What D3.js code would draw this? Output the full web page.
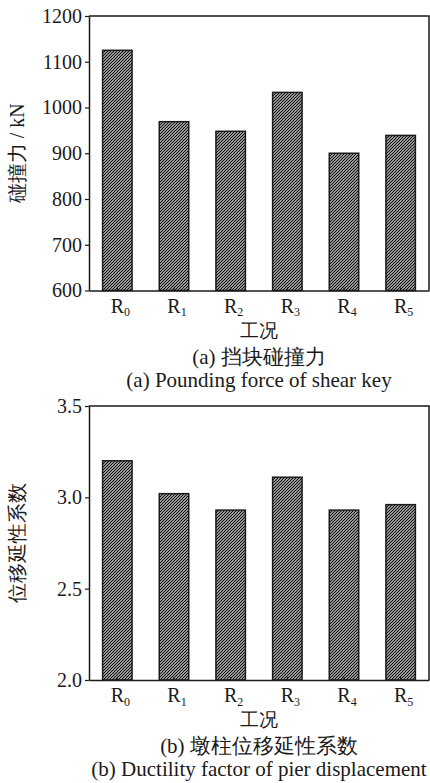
<!DOCTYPE html>
<html>
<head>
<meta charset="utf-8">
<script src="https://cdn.jsdelivr.net/npm/d3@7"></script>
</head>
<body style="margin:0;background:#fff">
<svg id="chart" width="430" height="783"></svg>
<script>
// data
const cases      = ['0','1','2','3','4','5'];           // R subscripts
const forceVals  = [1125, 969, 948, 1033, 900, 939];   // kN
const forceTicks = [600, 700, 800, 900, 1000, 1100, 1200];
const ductVals   = [3.20, 3.02, 2.93, 3.11, 2.93, 2.96];
const ductTicks  = [2.0, 2.5, 3.0, 3.5];

const svg = d3.select('#chart');
const ink = '#1a1a1a';
const serif = '"Liberation Serif"';

// hatch "/" pattern
const pat = svg.append('defs').append('pattern')
  .attr('id','hatch').attr('patternUnits','userSpaceOnUse')
  .attr('width',3).attr('height',3);
pat.append('rect').attr('width',3).attr('height',3).attr('fill','#fff');
pat.append('path')
  .attr('d','M-1,1 L1,-1 M0,3 L3,0 M2,4 L4,2')
  .attr('stroke','#111').attr('stroke-width',1.3);

const L = 89, R = 429;

function txt(sel, size){
  return sel.style('font-family', serif).style('font-size', size+'px').style('fill', ink);
}

function panel(o){
  const x = d3.scaleBand().domain(cases).range([L,R])
    .paddingInner(0.48).paddingOuter(0.24);
  const y = d3.scaleLinear().domain(o.domain).range([o.bottom, o.top]);

  const g = svg.append('g');

  // bars
  g.selectAll('rect.bar').data(o.vals).enter().append('rect')
    .attr('class','bar')
    .attr('x',(d,i)=>x(cases[i]))
    .attr('y',d=>y(d))
    .attr('width',x.bandwidth())
    .attr('height',d=>o.bottom - y(d))
    .attr('fill','url(#hatch)')
    .attr('stroke',ink).attr('stroke-width',1.5);

  // frame top/right
  g.append('path')
    .attr('d',`M${L},${o.top}H${R}V${o.bottom}`)
    .attr('fill','none').attr('stroke',ink).attr('stroke-width',1.5);

  // y axis
  const ya = g.append('g').attr('transform',`translate(${L},0)`)
    .call(d3.axisLeft(y).tickValues(o.ticks).tickFormat(o.fmt)
      .tickSizeInner(4).tickSizeOuter(0).tickPadding(3));
  ya.select('.domain').attr('stroke',ink).attr('stroke-width',1.5);
  ya.selectAll('.tick line').attr('stroke',ink).attr('stroke-width',1.2);
  txt(ya.selectAll('text'), 20);

  // x axis
  const xa = g.append('g').attr('transform',`translate(0,${o.bottom})`)
    .call(d3.axisBottom(x).tickSizeInner(-3).tickSizeOuter(0).tickPadding(8));
  xa.select('.domain').attr('stroke',ink).attr('stroke-width',1.5);
  xa.selectAll('.tick line').attr('stroke',ink).attr('stroke-width',1.2);
  xa.selectAll('.tick text').each(function(d){
    const t = txt(d3.select(this).text(null)
      .attr('text-anchor','start').attr('x',-6.7), 20);
    t.append('tspan').text('R');
    t.append('tspan').style('font-size','12px').attr('dy','0.3em').text(d);
  });

  // y label
  txt(g.append('text'), 20)
    .attr('transform',`translate(24,${(o.top+o.bottom)/2}) rotate(-90)`)
    .attr('text-anchor','middle')
    .text(o.ylabel);

  const cx = (L+R)/2;
  txt(g.append('text'), 19).attr('x',cx).attr('y',o.bottom+46)
    .attr('text-anchor','middle').text('工况');
  txt(g.append('text'), 21).attr('x',cx).attr('y',o.bottom+73)
    .attr('text-anchor','middle').text(o.cap1);
  txt(g.append('text'), 21).attr('x',cx).attr('y',o.bottom+96)
    .attr('text-anchor','middle').text(o.cap2);
}

panel({
  vals: forceVals, ticks: forceTicks, domain:[600,1200],
  top: 16, bottom: 290.5, fmt: d3.format('d'),
  ylabel: '碰撞力 / kN',
  cap1: '(a) 挡块碰撞力', cap2: '(a) Pounding force of shear key'
});
panel({
  vals: ductVals, ticks: ductTicks, domain:[2.0,3.5],
  top: 406, bottom: 680, fmt: d3.format('.1f'),
  ylabel: '位移延性系数',
  cap1: '(b) 墩柱位移延性系数', cap2: '(b) Ductility factor of pier displacement'
});
</script>
</body>
</html>
